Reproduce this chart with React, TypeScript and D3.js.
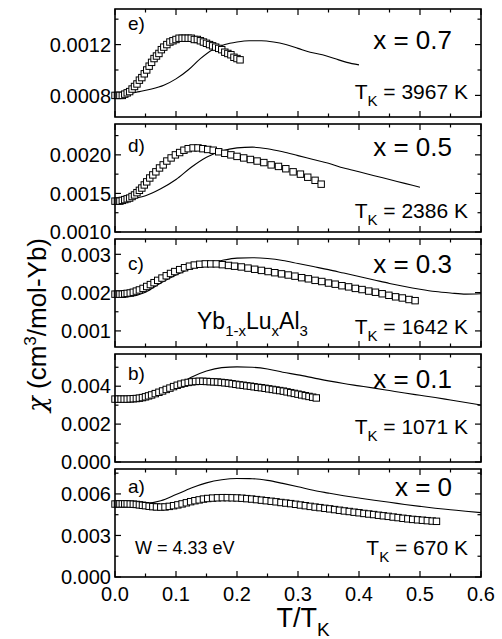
import * as d3 from 'd3';

type Pt = [number, number];

const squaresE: Pt[] = [
  [0.000, 0.00080], [0.004, 0.00080], [0.008, 0.00080], [0.012, 0.00080], [0.016, 0.00081], [0.020, 0.00082],
  [0.024, 0.00083], [0.028, 0.00085], [0.032, 0.00087], [0.036, 0.00089], [0.040, 0.00092], [0.044, 0.00094],
  [0.048, 0.00097], [0.052, 0.00100], [0.056, 0.00103], [0.060, 0.00106], [0.064, 0.00109], [0.068, 0.00111],
  [0.072, 0.00113], [0.076, 0.00116], [0.080, 0.00118], [0.085, 0.00120], [0.090, 0.00122], [0.095, 0.00123],
  [0.100, 0.00124], [0.105, 0.00125], [0.110, 0.00125], [0.115, 0.00125], [0.120, 0.00125], [0.125, 0.00125],
  [0.130, 0.00124], [0.135, 0.00124], [0.140, 0.00123], [0.145, 0.00122], [0.150, 0.00121], [0.155, 0.00120],
  [0.160, 0.00119], [0.165, 0.00118], [0.170, 0.00117], [0.175, 0.00116], [0.180, 0.00114], [0.185, 0.00113],
  [0.190, 0.00112], [0.195, 0.00110], [0.200, 0.00109], [0.205, 0.00108],
];
const curveE: Pt[] = [
  [0.000, 0.00080], [0.020, 0.00081], [0.040, 0.00083], [0.060, 0.00085], [0.080, 0.00088], [0.100, 0.00093],
  [0.120, 0.00100], [0.140, 0.00109], [0.160, 0.00116], [0.180, 0.00120], [0.200, 0.00122], [0.220, 0.00123],
  [0.240, 0.00123], [0.260, 0.00122], [0.280, 0.00120], [0.300, 0.00117], [0.320, 0.00114], [0.340, 0.00112],
  [0.360, 0.00109], [0.380, 0.00106], [0.400, 0.00104],
];

const squaresD: Pt[] = [
  [0.000, 0.00140], [0.004, 0.00140], [0.008, 0.00140], [0.012, 0.00141], [0.016, 0.00142], [0.020, 0.00143],
  [0.024, 0.00144], [0.028, 0.00146], [0.032, 0.00148], [0.036, 0.00151], [0.040, 0.00154], [0.044, 0.00157],
  [0.048, 0.00161], [0.052, 0.00165], [0.057, 0.00170], [0.062, 0.00174], [0.067, 0.00178], [0.073, 0.00183],
  [0.079, 0.00187], [0.085, 0.00192], [0.092, 0.00196], [0.099, 0.00200], [0.106, 0.00203], [0.113, 0.00206],
  [0.120, 0.00208], [0.128, 0.00209], [0.136, 0.00209], [0.144, 0.00208], [0.152, 0.00207], [0.161, 0.00206],
  [0.170, 0.00204], [0.180, 0.00202], [0.190, 0.00200], [0.200, 0.00198], [0.211, 0.00196], [0.222, 0.00194],
  [0.233, 0.00192], [0.244, 0.00190], [0.256, 0.00187], [0.268, 0.00185], [0.280, 0.00182], [0.292, 0.00178],
  [0.304, 0.00175], [0.316, 0.00171], [0.328, 0.00167], [0.338, 0.00162],
];
const curveD: Pt[] = [
  [0.000, 0.00141], [0.025, 0.00143], [0.050, 0.00147], [0.075, 0.00156], [0.100, 0.00168], [0.125, 0.00184],
  [0.150, 0.00197], [0.175, 0.00205], [0.200, 0.00209], [0.225, 0.00210], [0.250, 0.00208], [0.275, 0.00204],
  [0.300, 0.00199], [0.325, 0.00194], [0.350, 0.00189], [0.375, 0.00183], [0.400, 0.00178], [0.425, 0.00173],
  [0.450, 0.00168], [0.475, 0.00163], [0.500, 0.00158],
];

const squaresC: Pt[] = [
  [0.000, 0.00196], [0.004, 0.00196], [0.008, 0.00196], [0.012, 0.00196], [0.016, 0.00197], [0.020, 0.00198],
  [0.025, 0.00199], [0.030, 0.00201], [0.035, 0.00204], [0.040, 0.00207], [0.046, 0.00211], [0.052, 0.00216],
  [0.058, 0.00221], [0.064, 0.00226], [0.070, 0.00232], [0.077, 0.00238], [0.084, 0.00244], [0.091, 0.00250],
  [0.098, 0.00255], [0.106, 0.00260], [0.114, 0.00265], [0.122, 0.00269], [0.130, 0.00272], [0.139, 0.00274],
  [0.148, 0.00275], [0.157, 0.00275], [0.166, 0.00275], [0.176, 0.00273], [0.186, 0.00271], [0.196, 0.00269],
  [0.207, 0.00267], [0.218, 0.00264], [0.229, 0.00261], [0.240, 0.00258], [0.251, 0.00255], [0.262, 0.00252],
  [0.273, 0.00249], [0.284, 0.00246], [0.295, 0.00243], [0.306, 0.00239], [0.317, 0.00236], [0.328, 0.00232],
  [0.339, 0.00229], [0.350, 0.00225], [0.361, 0.00222], [0.372, 0.00218], [0.383, 0.00215], [0.394, 0.00211],
  [0.405, 0.00208], [0.416, 0.00204], [0.427, 0.00201], [0.438, 0.00197], [0.449, 0.00193], [0.460, 0.00189],
  [0.471, 0.00186], [0.482, 0.00182], [0.492, 0.00179],
];
const curveC: Pt[] = [
  [0.000, 0.00188], [0.025, 0.00190], [0.050, 0.00201], [0.075, 0.00225], [0.100, 0.00246], [0.125, 0.00263],
  [0.150, 0.00275], [0.175, 0.00284], [0.200, 0.00290], [0.225, 0.00291], [0.250, 0.00289], [0.275, 0.00284],
  [0.300, 0.00276], [0.325, 0.00268], [0.350, 0.00260], [0.375, 0.00251], [0.400, 0.00242], [0.425, 0.00233],
  [0.450, 0.00224], [0.475, 0.00216], [0.500, 0.00209], [0.525, 0.00203], [0.550, 0.00199], [0.575, 0.00196],
  [0.600, 0.00197],
];

const squaresB: Pt[] = [
  [0.000, 0.00332], [0.005, 0.00332], [0.010, 0.00332], [0.015, 0.00332], [0.020, 0.00332], [0.025, 0.00333],
  [0.030, 0.00334], [0.035, 0.00335], [0.040, 0.00337], [0.045, 0.00340], [0.050, 0.00344], [0.055, 0.00349],
  [0.060, 0.00354], [0.066, 0.00361], [0.072, 0.00368], [0.078, 0.00375], [0.084, 0.00383], [0.090, 0.00390],
  [0.096, 0.00398], [0.102, 0.00405], [0.108, 0.00411], [0.114, 0.00416], [0.120, 0.00420], [0.126, 0.00423],
  [0.132, 0.00425], [0.138, 0.00426], [0.144, 0.00426], [0.150, 0.00425], [0.156, 0.00424], [0.162, 0.00423],
  [0.168, 0.00422], [0.174, 0.00420], [0.180, 0.00418], [0.186, 0.00416], [0.192, 0.00413], [0.198, 0.00410],
  [0.204, 0.00407], [0.210, 0.00405], [0.216, 0.00402], [0.222, 0.00400], [0.228, 0.00397], [0.234, 0.00394],
  [0.240, 0.00392], [0.246, 0.00389], [0.252, 0.00386], [0.258, 0.00383], [0.264, 0.00380], [0.270, 0.00377],
  [0.276, 0.00374], [0.282, 0.00370], [0.288, 0.00366], [0.294, 0.00362], [0.300, 0.00358], [0.306, 0.00354],
  [0.312, 0.00350], [0.318, 0.00346], [0.324, 0.00342], [0.330, 0.00338],
];
const curveB: Pt[] = [
  [0.000, 0.00328], [0.025, 0.00330], [0.050, 0.00340], [0.075, 0.00366], [0.100, 0.00402], [0.125, 0.00447],
  [0.150, 0.00480], [0.175, 0.00498], [0.200, 0.00502], [0.225, 0.00500], [0.250, 0.00491], [0.275, 0.00474],
  [0.300, 0.00460], [0.325, 0.00444], [0.350, 0.00428], [0.375, 0.00414], [0.400, 0.00402], [0.425, 0.00390],
  [0.450, 0.00377], [0.475, 0.00364], [0.500, 0.00352], [0.525, 0.00340], [0.550, 0.00327], [0.575, 0.00314],
  [0.600, 0.00301],
];

const squaresA: Pt[] = [
  [0.000, 0.00527], [0.004, 0.00528], [0.008, 0.00528], [0.012, 0.00528], [0.016, 0.00528], [0.020, 0.00528],
  [0.025, 0.00527], [0.030, 0.00526], [0.035, 0.00524], [0.040, 0.00521], [0.045, 0.00518], [0.050, 0.00515],
  [0.056, 0.00511], [0.062, 0.00508], [0.068, 0.00506], [0.075, 0.00505], [0.082, 0.00506], [0.089, 0.00510],
  [0.096, 0.00515], [0.103, 0.00521], [0.110, 0.00528], [0.117, 0.00536], [0.124, 0.00544], [0.131, 0.00551],
  [0.138, 0.00557], [0.145, 0.00563], [0.152, 0.00567], [0.160, 0.00570], [0.168, 0.00572], [0.176, 0.00573],
  [0.184, 0.00573], [0.192, 0.00572], [0.200, 0.00571], [0.208, 0.00569], [0.216, 0.00566], [0.224, 0.00563],
  [0.232, 0.00559], [0.240, 0.00555], [0.248, 0.00551], [0.256, 0.00547], [0.264, 0.00543], [0.272, 0.00538],
  [0.280, 0.00534], [0.288, 0.00530], [0.296, 0.00525], [0.304, 0.00520], [0.312, 0.00515], [0.320, 0.00510],
  [0.328, 0.00505], [0.336, 0.00501], [0.344, 0.00496], [0.352, 0.00492], [0.360, 0.00487], [0.368, 0.00482],
  [0.376, 0.00477], [0.384, 0.00473], [0.392, 0.00468], [0.400, 0.00464], [0.408, 0.00459], [0.416, 0.00455],
  [0.424, 0.00451], [0.432, 0.00446], [0.440, 0.00442], [0.448, 0.00438], [0.456, 0.00433], [0.464, 0.00429],
  [0.472, 0.00424], [0.480, 0.00420], [0.488, 0.00416], [0.496, 0.00413], [0.504, 0.00410], [0.512, 0.00407],
  [0.520, 0.00404], [0.527, 0.00402],
];
const curveA: Pt[] = [
  [0.000, 0.00527], [0.025, 0.00527], [0.050, 0.00530], [0.075, 0.00550], [0.100, 0.00595], [0.125, 0.00643],
  [0.150, 0.00680], [0.175, 0.00702], [0.200, 0.00711], [0.225, 0.00710], [0.250, 0.00698], [0.275, 0.00676],
  [0.300, 0.00652], [0.325, 0.00626], [0.350, 0.00606], [0.375, 0.00587], [0.400, 0.00570], [0.425, 0.00554],
  [0.450, 0.00540], [0.475, 0.00524], [0.500, 0.00510], [0.525, 0.00497], [0.550, 0.00486], [0.575, 0.00475],
  [0.600, 0.00465],
];

// panels top to bottom
const panelLetters = ['e)', 'd)', 'c)', 'b)', 'a)'];
const compositions = ['x = 0.7', 'x = 0.5', 'x = 0.3', 'x = 0.1', 'x = 0'];
const kondoTemps = ['3967 K', '2386 K', '1642 K', '1071 K', '670 K'];
const squareSeries = [squaresE, squaresD, squaresC, squaresB, squaresA];
const curveSeries = [curveE, curveD, curveC, curveB, curveA];
const yDomains: [number, number][] = [[0.00063, 0.00148], [0.001, 0.0024], [0.00058, 0.0034], [0, 0.0057], [0, 0.0078]];
const yMajor = [[0.0008, 0.0012], [0.001, 0.0015, 0.002], [0.001, 0.002, 0.003], [0, 0.002, 0.004], [0, 0.003, 0.006]];
const yMinor = [[0.001, 0.0014], [0.00125, 0.00175, 0.00225], [0.0015, 0.0025], [0.001, 0.003, 0.005], [0.0015, 0.0045, 0.0075]];
const yDigits = [4, 4, 3, 3, 3];
const xMajor = [0, 0.1, 0.2, 0.3, 0.4, 0.5, 0.6];
const xMinor = [0.05, 0.15, 0.25, 0.35, 0.45, 0.55];

const W = 502;
const H = 639;
const LEFT = 115;
const RIGHT = 481;
const TOP = 9;
const PH = 108;
const STEP = 115;
const FONT = 'Arial, "Liberation Sans", sans-serif';
// text offsets from each panel's top edge
const letterDy = [21, 28, 31, 26, 24];
const compDy = [40, 32, 34, 34, 27];
const tkDy = [90, 94, 95, 80, 86];

const x = d3.scaleLinear().domain([0, 0.6]).range([LEFT, RIGHT]);

function Panel({ i }: { i: number }) {
  const top = TOP + i * STEP;
  const bottom = top + PH;
  const y = d3.scaleLinear().domain(yDomains[i]).range([bottom, top]);
  const line = d3.line<Pt>().x(d => x(d[0])).y(d => y(d[1])).curve(d3.curveMonotoneX);
  const isLast = i === 4;

  return (
    <g>
      {/* x ticks, top and bottom, pointing in */}
      {xMajor.map(t => (
        <g key={'xM' + t}>
          <line x1={x(t)} x2={x(t)} y1={top} y2={top + 6} stroke="#000" strokeWidth={1.2} />
          <line x1={x(t)} x2={x(t)} y1={bottom} y2={bottom - 6} stroke="#000" strokeWidth={1.2} />
        </g>
      ))}
      {xMinor.map(t => (
        <g key={'xm' + t}>
          <line x1={x(t)} x2={x(t)} y1={top} y2={top + 3.5} stroke="#000" strokeWidth={1.2} />
          <line x1={x(t)} x2={x(t)} y1={bottom} y2={bottom - 3.5} stroke="#000" strokeWidth={1.2} />
        </g>
      ))}
      {yMajor[i].map(v => (
        <g key={'yM' + v}>
          <line x1={LEFT} x2={LEFT + 6} y1={y(v)} y2={y(v)} stroke="#000" strokeWidth={1.2} />
          <line x1={RIGHT} x2={RIGHT - 6} y1={y(v)} y2={y(v)} stroke="#000" strokeWidth={1.2} />
          <text x={LEFT - 4} y={y(v)} dy="0.36em" textAnchor="end" fontSize={20}>
            {v.toFixed(yDigits[i])}
          </text>
        </g>
      ))}
      {yMinor[i].map(v => (
        <g key={'ym' + v}>
          <line x1={LEFT} x2={LEFT + 3.5} y1={y(v)} y2={y(v)} stroke="#000" strokeWidth={1.2} />
          <line x1={RIGHT} x2={RIGHT - 3.5} y1={y(v)} y2={y(v)} stroke="#000" strokeWidth={1.2} />
        </g>
      ))}

      <path d={line(curveSeries[i]) ?? ''} fill="none" stroke="#000" strokeWidth={1.1} />
      {squareSeries[i].map((d, k) => (
        <rect key={k} x={x(d[0]) - 3.2} y={y(d[1]) - 3.2} width={6.4} height={6.4} fill="#fff" stroke="#000" strokeWidth={1} />
      ))}

      <rect x={LEFT} y={top} width={RIGHT - LEFT} height={PH} fill="none" stroke="#000" strokeWidth={1.6} />

      <text x={128} y={top + letterDy[i]} fontSize={19}>{panelLetters[i]}</text>
      <text x={452} y={top + compDy[i]} fontSize={26} textAnchor="end">{compositions[i]}</text>
      <text x={468} y={top + tkDy[i]} fontSize={21} textAnchor="end">
        T<tspan dy={7} fontSize={15}>K</tspan>
        <tspan dy={-7}>{' = ' + kondoTemps[i]}</tspan>
      </text>

      {isLast &&
        xMajor.map(t => (
          <text key={'xl' + t} x={x(t)} y={bottom + 24} textAnchor="middle" fontSize={20}>
            {t.toFixed(1)}
          </text>
        ))}
    </g>
  );
}

export default function App() {
  const cTop = TOP + 2 * STEP;
  const aTop = TOP + 4 * STEP;
  return (
    <svg
      width={W}
      height={H}
      style={{ position: 'absolute', left: 0, top: 0, background: '#fff' }}
      fontFamily={FONT}
    >
      {[0, 1, 2, 3, 4].map(i => (
        <Panel key={i} i={i} />
      ))}

      <text x={197} y={cTop + 90} fontSize={23}>
        Yb<tspan dy={7} fontSize={15}>1-x</tspan>
        <tspan dy={-7}>Lu</tspan>
        <tspan dy={7} fontSize={15}>x</tspan>
        <tspan dy={-7}>Al</tspan>
        <tspan dy={7} fontSize={15}>3</tspan>
      </text>

      <text x={135} y={aTop + 85} fontSize={18}>W = 4.33 eV</text>

      <text x={303} y={627} textAnchor="middle" fontSize={27}>
        T/T<tspan dy={9} fontSize={19}>K</tspan>
      </text>

      <text transform="translate(46,325) rotate(-90)" textAnchor="middle" fontSize={26}>
        <tspan fontFamily='"DejaVu Serif", serif' fontStyle="italic">χ</tspan> (cm
        <tspan dy={-10} fontSize={17}>3</tspan>
        <tspan dy={10}>/mol-Yb)</tspan>
      </text>
    </svg>
  );
}
